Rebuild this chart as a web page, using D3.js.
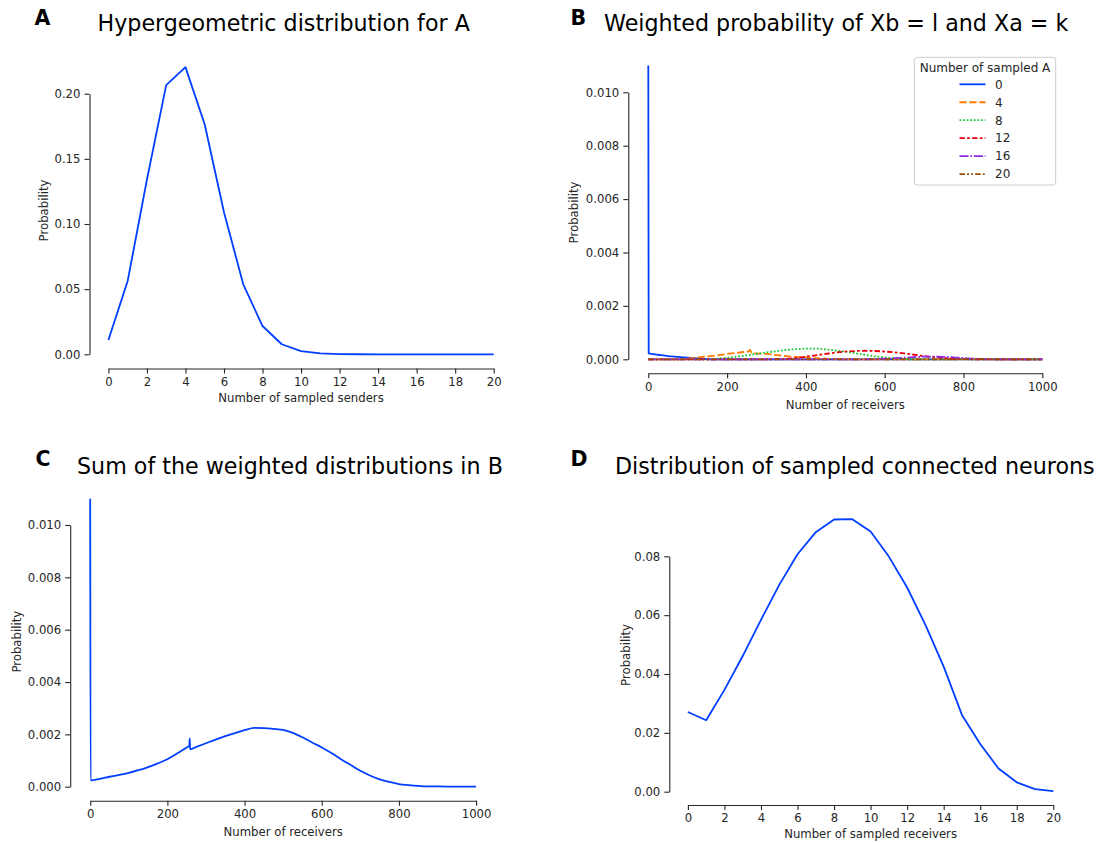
<!DOCTYPE html>
<html>
<head>
<meta charset="utf-8">
<script src="https://cdn.jsdelivr.net/npm/d3@7"></script>
<style>
  html, body { margin: 0; padding: 0; background: #ffffff; }
  svg { display: block; font-family: "DejaVu Sans", sans-serif; }
</style>
</head>
<body>
<svg id="fig" width="1099" height="843"></svg>
<script>
// ---- Panel A: hypergeometric distribution of sampled senders ----
const sendersK = d3.range(0, 21);
const probA = [0.0110, 0.0562, 0.1340, 0.2066, 0.2204, 0.1764, 0.1090, 0.0537, 0.0217, 0.0077,
               0.0025, 0.0007, 0.0002, 0.00005, 0, 0, 0, 0, 0, 0, 0];

// ---- Panel B: weighted probability per number of sampled A ----
const legendLabels = ["0", "4", "8", "12", "16", "20"];
const bReceivers = [0, 1, 25, 50, 75, 100, 125, 150, 175, 200, 225, 250, 255, 258, 262, 275, 300, 325, 350,
                    375, 400, 425, 450, 475, 500, 525, 550, 575, 600, 625, 650, 675, 700, 725, 750, 775,
                    800, 825, 850, 900, 950, 1000];
const bSampled0 = [0.0110, 0.00022, 0.00017, 0.00012, 0.00009, 0.00006, 0.00003, 0.00001, 0, 0, 0, 0, 0, 0, 0, 0, 0, 0, 0,
                   0, 0, 0, 0, 0, 0, 0, 0, 0, 0, 0, 0, 0, 0, 0, 0, 0,
                   0, 0, 0, 0, 0, 0];
const bSampled4 = [0, 0, 0, 0, 0, 0.00003, 0.00007, 0.00011, 0.00015, 0.00020, 0.00024, 0.00029, 0.00030, 0.00035, 0.00024, 0.00022, 0.00020, 0.00016, 0.00012,
                   0.00009, 0.00007, 0.00004, 0.00002, 0.00001, 0, 0, 0, 0, 0, 0, 0, 0, 0, 0, 0, 0,
                   0, 0, 0, 0, 0, 0];
const bSampled8 = [0, 0, 0, 0, 0, 0, 0, 0, 0.00002, 0.00006, 0.00010, 0.00015, 0.00016, 0.00017, 0.00018, 0.00020, 0.00026, 0.00030, 0.00035,
                   0.00038, 0.00040, 0.00040, 0.00037, 0.00033, 0.00029, 0.00023, 0.00017, 0.00011, 0.00007, 0.00003, 0.00001, 0, 0, 0, 0, 0,
                   0, 0, 0, 0, 0, 0];
const bSampled12 = [0, 0, 0, 0, 0, 0, 0, 0, 0, 0, 0, 0, 0, 0, 0, 0, 0, 0.00001, 0.00002,
                    0.00005, 0.00010, 0.00015, 0.00020, 0.00025, 0.00029, 0.00031, 0.00032, 0.00031, 0.00029, 0.00026, 0.00022, 0.00017, 0.00012, 0.00008, 0.00005, 0.00002,
                    0.00001, 0, 0, 0, 0, 0];
const bSampled16 = [0, 0, 0, 0, 0, 0, 0, 0, 0, 0, 0, 0, 0, 0, 0, 0, 0, 0, 0,
                    0, 0, 0, 0, 0, 0, 0, 0, 0.00001, 0.00002, 0.00004, 0.00006, 0.00008, 0.00010, 0.00010, 0.00009, 0.00007,
                    0.00005, 0.00002, 0.00001, 0, 0, 0];
const bSampled20 = [0, 0, 0, 0, 0, 0, 0, 0, 0, 0, 0, 0, 0, 0, 0, 0, 0, 0, 0,
                    0, 0, 0, 0, 0, 0, 0, 0, 0, 0, 0, 0, 0, 0, 0, 0, 0,
                    0.00001, 0.00001, 0.00001, 0, 0, 0];

// ---- Panel C: sum of the weighted distributions ----
const cReceivers = [0, 1, 25, 50, 75, 100, 125, 150, 175, 200, 225, 250, 257, 258, 259, 275, 300, 325, 350, 375,
                    400, 425, 450, 475, 500, 525, 550, 575, 600, 625, 650, 675, 700, 725, 750, 775, 800,
                    825, 850, 875, 900, 950, 1000];
const cProb = [0.0110, 0.00024, 0.00030, 0.00038, 0.00045, 0.00053, 0.00063, 0.00075, 0.00089, 0.00105, 0.00127, 0.00150, 0.00157, 0.00185, 0.00143, 0.00152, 0.00166, 0.00180, 0.00193, 0.00205,
               0.00216, 0.00225, 0.00224, 0.00221, 0.00217, 0.00206, 0.00189, 0.00169, 0.00150, 0.00129, 0.00105, 0.00083, 0.00061, 0.00043, 0.00028, 0.00018, 0.00010,
               0.00006, 0.00003, 0.00001, 0.00001, 0, 0];

// ---- Panel D: distribution of sampled connected neurons ----
const receiversK = d3.range(0, 21);
const probD = [0.0271, 0.0243, 0.0346, 0.0461, 0.0584, 0.0703, 0.0807, 0.0882, 0.0925, 0.0926,
               0.0884, 0.0799, 0.0694, 0.0567, 0.0425, 0.0261, 0.0162, 0.0079, 0.0032, 0.0009, 0.0002];

// ---- styling ----
const INK = "#262626";
const palette = ["#023eff", "#ff7c00", "#1ac938", "#e8000b", "#8b2be2", "#9f4800"];
const LW = 1.8;
const dashes = ["", "7.2,2.7", "1.8,1.8", "5.4,2.25,2.7,2.25", "9,1.8,1.8,1.8", "5.4,2.25,1.8,2.25,1.8,2.25"];
const TICK_FS = 11.7, LABEL_FS = 11.7;

const svg = d3.select("#fig");

// Draws trimmed, offset-free seaborn-style axes for one panel
function drawAxes(p) {
  const g = svg.append("g");
  const xAxis = d3.axisBottom(p.x).tickValues(p.xTicks).tickFormat(p.xFmt)
    .tickSize(5).tickSizeOuter(0).tickPadding(4);
  const yAxis = d3.axisLeft(p.y).tickValues(p.yTicks).tickFormat(p.yFmt)
    .tickSize(5).tickSizeOuter(0).tickPadding(4);
  const gx = g.append("g").attr("transform", `translate(0,${p.xAxisY})`).call(xAxis);
  const gy = g.append("g").attr("transform", `translate(${p.yAxisX},0)`).call(yAxis);
  [gx, gy].forEach(a => {
    a.selectAll("path.domain").attr("stroke", INK).attr("stroke-width", 1.1);
    a.selectAll(".tick line").attr("stroke", INK).attr("stroke-width", 1.1);
    a.selectAll(".tick text").attr("fill", INK).attr("font-size", TICK_FS)
      .attr("font-family", "DejaVu Sans");
  });
  // y domain path is drawn from the scale's range; shift it to the spine position
  g.append("text").attr("x", p.xLabelX).attr("y", p.xLabelY).attr("text-anchor", "middle")
    .attr("fill", INK).attr("font-size", LABEL_FS).text(p.xLabel);
  g.append("text").attr("transform", `translate(${p.yLabelX},${p.yLabelY}) rotate(-90)`)
    .attr("text-anchor", "middle").attr("fill", INK).attr("font-size", LABEL_FS).text("Probability");
  g.append("text").attr("x", p.titleX).attr("y", p.titleY).attr("fill", "#000")
    .attr("font-size", 22.2).text(p.title);
  g.append("text").attr("x", p.tagX).attr("y", p.tagY).attr("fill", "#000")
    .attr("font-size", 20.5).attr("font-weight", "bold").text(p.tag);
  return g;
}

// Panel A
const xA = d3.scaleLinear().domain([0, 20]).range([108.4, 493.7]);
const yA = d3.scaleLinear().domain([0, 0.20]).range([354.3, 93.7]);
drawAxes({
  x: xA, y: yA, xTicks: d3.range(0, 21, 2), yTicks: [0, 0.05, 0.10, 0.15, 0.20],
  xFmt: d3.format("d"), yFmt: d3.format(".2f"),
  xAxisY: 368.5, yAxisX: 89.5,
  xLabel: "Number of sampled senders", xLabelX: 301, xLabelY: 401.5,
  yLabelX: 47.5, yLabelY: 210.5,
  title: "Hypergeometric distribution for A", titleX: 97.5, titleY: 31,
  tag: "A", tagX: 34.5, tagY: 25
});
svg.append("path")
  .datum(sendersK.map((k, i) => [k, probA[i]]))
  .attr("fill", "none").attr("stroke", palette[0]).attr("stroke-width", LW)
  .attr("stroke-linejoin", "round")
  .attr("d", d3.line().x(d => xA(d[0])).y(d => yA(d[1])));

// Panel B
const xB = d3.scaleLinear().domain([0, 1000]).range([648.3, 1042.3]);
const yB = d3.scaleLinear().domain([0, 0.010]).range([359.3, 92.3]);
drawAxes({
  x: xB, y: yB, xTicks: d3.range(0, 1001, 200), yTicks: d3.range(0, 0.0101, 0.002),
  xFmt: d3.format("d"), yFmt: d3.format(".3f"),
  xAxisY: 373.3, yAxisX: 628.3,
  xLabel: "Number of receivers", xLabelX: 845.3, xLabelY: 408.5,
  yLabelX: 578, yLabelY: 212.5,
  title: "Weighted probability of Xb = l and Xa = k", titleX: 604, titleY: 31,
  tag: "B", tagX: 570.5, tagY: 25
});
const bSeries = [bSampled0, bSampled4, bSampled8, bSampled12, bSampled16, bSampled20];
const lineB = d3.line().x(d => xB(d[0])).y(d => yB(d[1])).curve(d3.curveMonotoneX);
bSeries.forEach((vals, i) => {
  svg.append("path")
    .datum(bReceivers.map((r, j) => [r, vals[j]]))
    .attr("fill", "none").attr("stroke", palette[i]).attr("stroke-width", LW)
    .attr("stroke-dasharray", dashes[i] || null)
    .attr("d", lineB);
});

// Legend for panel B
const leg = svg.append("g");
leg.append("rect").attr("x", 914.3).attr("y", 57.3).attr("width", 141.4).attr("height", 127.7)
  .attr("rx", 3).attr("fill", "#fff").attr("fill-opacity", 0.8)
  .attr("stroke", "#cccccc").attr("stroke-width", 1);
leg.append("text").attr("x", 985).attr("y", 71.6).attr("text-anchor", "middle")
  .attr("fill", INK).attr("font-size", 12).text("Number of sampled A");
legendLabels.forEach((lab, i) => {
  const cy = 84.3 + i * 17.95;
  leg.append("line").attr("x1", 959.5).attr("x2", 985.5).attr("y1", cy).attr("y2", cy)
    .attr("stroke", palette[i]).attr("stroke-width", LW)
    .attr("stroke-dasharray", dashes[i] || null);
  leg.append("text").attr("x", 995).attr("y", cy + 4.3).attr("fill", INK)
    .attr("font-size", 12).text(lab);
});

// Panel C
const xC = d3.scaleLinear().domain([0, 1000]).range([90.2, 476.1]);
const yC = d3.scaleLinear().domain([0, 0.010]).range([786.7, 525]);
drawAxes({
  x: xC, y: yC, xTicks: d3.range(0, 1001, 200), yTicks: d3.range(0, 0.0101, 0.002),
  xFmt: d3.format("d"), yFmt: d3.format(".3f"),
  xAxisY: 800.7, yAxisX: 70.2,
  xLabel: "Number of receivers", xLabelX: 283.2, xLabelY: 835.5,
  yLabelX: 20.5, yLabelY: 641.7,
  title: "Sum of the weighted distributions in B", titleX: 77, titleY: 473.5,
  tag: "C", tagX: 35.5, tagY: 465.5
});
svg.append("path")
  .datum(cReceivers.map((r, j) => [r, cProb[j]]))
  .attr("fill", "none").attr("stroke", palette[0]).attr("stroke-width", LW)
  .attr("stroke-linejoin", "round")
  .attr("d", d3.line().x(d => xC(d[0])).y(d => yC(d[1])).curve(d3.curveMonotoneX));

// Panel D
const xD = d3.scaleLinear().domain([0, 20]).range([687.9, 1053.3]);
const yD = d3.scaleLinear().domain([0, 0.08]).range([791.7, 556.3]);
drawAxes({
  x: xD, y: yD, xTicks: d3.range(0, 21, 2), yTicks: [0, 0.02, 0.04, 0.06, 0.08],
  xFmt: d3.format("d"), yFmt: d3.format(".2f"),
  xAxisY: 805, yAxisX: 669.3,
  xLabel: "Number of sampled receivers", xLabelX: 870.6, xLabelY: 837.5,
  yLabelX: 630, yLabelY: 655,
  title: "Distribution of sampled connected neurons", titleX: 615, titleY: 473.5,
  tag: "D", tagX: 570.5, tagY: 466
});
svg.append("path")
  .datum(receiversK.map((k, i) => [k, probD[i]]))
  .attr("fill", "none").attr("stroke", palette[0]).attr("stroke-width", LW)
  .attr("stroke-linejoin", "round")
  .attr("d", d3.line().x(d => xD(d[0])).y(d => yD(d[1])));
</script>
</body>
</html>
